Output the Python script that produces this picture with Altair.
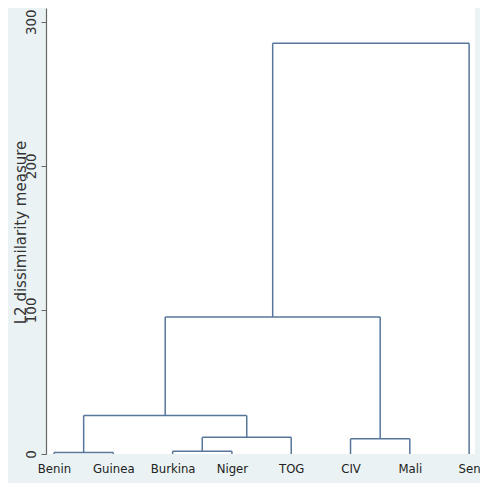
import altair as alt
import pandas as pd

# Leaves in dendrogram order
leaves = ["Benin", "Guinea", "Burkina", "Niger", "TOG", "CIV", "Mali", "Sen"]

# Merges (scipy-style ids: 0-7 leaves, 8+ merged clusters)
merge_a = [0, 2, 5, 9, 8, 12, 13]
merge_b = [1, 3, 6, 4, 11, 10, 7]
merge_h = [1.0, 1.9, 10.5, 11.6, 26.7, 95.0, 285.0]

y_ticks = [0, 100, 200, 300]

# Build segment table from the structure
xpos = {i: float(i) for i in range(len(leaves))}
hpos = {i: 0.0 for i in range(len(leaves))}
rows = []
for k, (a, b, h) in enumerate(zip(merge_a, merge_b, merge_h)):
    cid = len(leaves) + k
    xa, xb = xpos[a], xpos[b]
    rows.append({"x": xa, "x2": xa, "y": hpos[a], "y2": h})
    rows.append({"x": xb, "x2": xb, "y": hpos[b], "y2": h})
    rows.append({"x": xa, "x2": xb, "y": h, "y2": h})
    xpos[cid] = (xa + xb) / 2
    hpos[cid] = h
seg = pd.DataFrame(rows)

label_expr = "[" + ",".join(f"'{n}'" for n in leaves) + "][datum.value]"

chart = (
    alt.Chart(seg)
    .mark_rule(color="#56779a", strokeWidth=1.5)
    .encode(
        x=alt.X(
            "x:Q",
            scale=alt.Scale(domain=[-0.135, 7.099], nice=False, zero=False),
            axis=alt.Axis(
                values=list(range(len(leaves))),
                labelExpr=label_expr,
                title=None,
                domain=False,
                ticks=False,
                tickSize=0,
                grid=False,
                labelFont="DejaVu Sans Condensed, Roboto, sans-serif",
                labelFontSize=13,
                labelColor="#222222",
                labelPadding=8,
                labelFlush=False,
                labelOverlap=False,
            ),
        ),
        x2="x2:Q",
        y=alt.Y(
            "y:Q",
            scale=alt.Scale(domain=[0, 309.5], nice=False),
            axis=alt.Axis(
                values=y_ticks,
                title="L2 dissimilarity measure",
                titleAngle=270,
                titleX=-21,
                titleY=224,
                titleAlign="center",
                titleBaseline="alphabetic",
                titleFont="DejaVu Sans",
                titleFontSize=15,
                titleFontWeight="normal",
                titleColor="#333333",
                grid=False,
                domainColor="#666666",
                domainWidth=1.2,
                tickColor="#666666",
                tickSize=5,
                labelAngle=270,
                labelAlign="center",
                labelBaseline="alphabetic",
                labelPadding=6,
                labelFont="DejaVu Sans",
                labelFontSize=13.5,
                labelColor="#333333",
                labelFlush=False,
                labelOverlap=False,
            ),
        ),
        y2="y2:Q",
    )
    .properties(
        width=429,
        height=446,
        background="#eaf2f3",
        padding={"left": 38, "top": 0, "right": 5, "bottom": 29},
        autosize=alt.AutoSizeParams(type="none"),
    )
    .configure_view(fill="white", stroke=None)
)

chart.save("out.html", embed_options={"renderer": "svg", "actions": False})
